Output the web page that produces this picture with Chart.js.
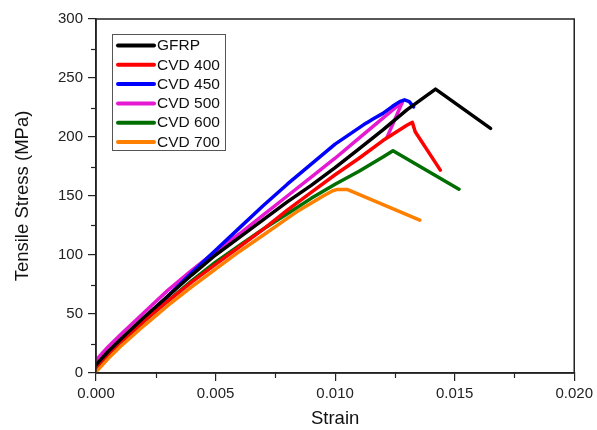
<!DOCTYPE html>
<html>
<head>
<meta charset="utf-8">
<script src="https://cdn.jsdelivr.net/npm/chart.js@4/dist/chart.umd.min.js"></script>
<style>
  html, body { margin: 0; padding: 0; background: #fff; }
  #wrap { width: 597px; height: 430px; }
</style>
</head>
<body>
<div id="wrap"><canvas id="c" width="597" height="430"></canvas></div>
<script>
// Stress–strain curves (strain, MPa)
const seriesNames = ['GFRP', 'CVD 400', 'CVD 450', 'CVD 500', 'CVD 600', 'CVD 700'];

const gfrpStrain   = [0, 0.0005, 0.001, 0.002, 0.003, 0.004, 0.005, 0.006, 0.007, 0.008, 0.009, 0.010, 0.011, 0.012, 0.013, 0.0142, 0.0165];
const gfrpStress   = [7, 18, 28, 47, 65, 83, 100, 115, 130, 145, 159, 174, 190, 206, 223, 240.6, 207.3];

const cvd400Strain = [0, 0.0005, 0.001, 0.002, 0.003, 0.004, 0.005, 0.006, 0.007, 0.008, 0.009, 0.010, 0.011, 0.012, 0.013, 0.01323, 0.01335, 0.0144];
const cvd400Stress = [5, 16, 26, 44, 61, 77, 92, 107, 122, 138, 153, 168, 182, 197, 210, 212.4, 204.4, 171.9];

const cvd450Strain = [0, 0.0005, 0.001, 0.002, 0.003, 0.004, 0.005, 0.006, 0.007, 0.008, 0.009, 0.010, 0.0108, 0.0112, 0.0114, 0.0116, 0.012, 0.0124, 0.0127, 0.0129, 0.0131, 0.01328];
const cvd450Stress = [6, 17, 27, 46, 65, 85, 104, 123, 142, 160, 177, 194, 205, 210.5, 213, 215.5, 220, 226, 230, 231.5, 230, 225.6];

const cvd500Strain = [0, 0.0005, 0.001, 0.002, 0.003, 0.004, 0.005, 0.006, 0.007, 0.008, 0.009, 0.010, 0.011, 0.012, 0.01282, 0.01217];
const cvd500Stress = [11, 22, 32, 51, 70, 87, 103, 118, 134, 150, 166, 182, 199, 216, 229.9, 199.7];

const cvd600Strain = [0, 0.0005, 0.001, 0.002, 0.003, 0.004, 0.005, 0.006, 0.007, 0.008, 0.009, 0.010, 0.011, 0.012, 0.01242, 0.01518];
const cvd600Stress = [5, 16, 26, 44, 61, 78, 94, 108, 122, 135, 148, 160, 171, 183, 188.3, 155.8];

const cvd700Strain = [0, 0.0005, 0.001, 0.002, 0.003, 0.004, 0.005, 0.006, 0.007, 0.008, 0.0085, 0.0095, 0.0099, 0.0101, 0.0105, 0.01354];
const cvd700Stress = [1, 12, 22, 40, 57, 73, 88, 103, 117, 131, 138, 150, 154.5, 155.6, 155.6, 129.5];

const seriesColors = ['#000000', '#ff0000', '#0000ff', '#e619d2', '#006e00', '#ff8000'];

// Axis ticks
const xMajorTicks = [0, 0.005, 0.010, 0.015, 0.020];
const xTickLabels = ['0.000', '0.005', '0.010', '0.015', '0.020'];
const yMajorTicks = [0, 50, 100, 150, 200, 250, 300];
const yTickLabels = ['0', '50', '100', '150', '200', '250', '300'];

const strainSets = [gfrpStrain, cvd400Strain, cvd450Strain, cvd500Strain, cvd600Strain, cvd700Strain];
const stressSets = [gfrpStress, cvd400Stress, cvd450Stress, cvd500Stress, cvd600Stress, cvd700Stress];

const datasets = seriesNames.map((name, i) => ({
  label: name,
  data: strainSets[i].map((s, j) => ({ x: s, y: stressSets[i][j] })),
  borderColor: seriesColors[i],
  backgroundColor: seriesColors[i],
  borderWidth: 3.5,
  borderJoinStyle: 'round',
  borderCapStyle: 'round',
  pointRadius: 0,
  tension: 0,
  fill: false
}));

const FONT = 'Liberation Sans, Arial, sans-serif';
const AXIS = '#222';

// frame, minor ticks and in-plot legend
const decorations = {
  id: 'decorations',
  afterDraw(chart) {
    const { ctx, chartArea: a, scales } = chart;
    ctx.save();
    ctx.strokeStyle = AXIS;
    ctx.lineWidth = 1.5;
    ctx.strokeRect(a.left, a.top, a.right - a.left, a.bottom - a.top);

    // minor ticks (outward)
    ctx.lineWidth = 1.2;
    for (let v = 0.0025; v < 0.02; v += 0.005) {
      const px = Math.round(scales.x.getPixelForValue(v)) + 0.5;
      ctx.beginPath(); ctx.moveTo(px, a.bottom); ctx.lineTo(px, a.bottom + 5); ctx.stroke();
    }
    for (let v = 25; v < 300; v += 50) {
      const py = Math.round(scales.y.getPixelForValue(v)) + 0.5;
      ctx.beginPath(); ctx.moveTo(a.left, py); ctx.lineTo(a.left - 5, py); ctx.stroke();
    }

    // legend box
    const bx = 112, by = 34, bw = 113, bh = 116, row = 19.3;
    ctx.fillStyle = '#fff';
    ctx.fillRect(bx, by, bw, bh);
    ctx.strokeStyle = '#555';
    ctx.lineWidth = 1;
    ctx.strokeRect(bx + 0.5, by + 0.5, bw, bh);
    ctx.font = '15.5px ' + FONT;
    ctx.textBaseline = 'middle';
    ctx.textAlign = 'left';
    chart.data.datasets.forEach((ds, i) => {
      const y = by + 11.5 + i * row;
      ctx.strokeStyle = ds.borderColor;
      ctx.lineWidth = 4;
      ctx.lineCap = 'round';
      ctx.beginPath(); ctx.moveTo(118, y); ctx.lineTo(154, y); ctx.stroke();
      ctx.fillStyle = '#111';
      ctx.fillText(ds.label, 157, y + 0.5);
    });
    ctx.restore();
  }
};

new Chart(document.getElementById('c'), {
  type: 'line',
  data: { datasets },
  options: {
    responsive: false,
    animation: false,
    layout: { padding: { top: 19, right: 19, left: 0, bottom: 0 } },
    plugins: { legend: { display: false }, tooltip: { enabled: false } },
    scales: {
      x: {
        type: 'linear',
        min: 0, max: 0.02,
        afterBuildTicks(scale) { scale.ticks = xMajorTicks.map(v => ({ value: v })); },
        afterFit(scale) { scale.height = 57; },
        grid: { display: true, drawOnChartArea: false, drawTicks: true, tickLength: 8, color: AXIS, lineWidth: 1.2 },
        border: { display: true, color: AXIS, width: 1.5 },
        ticks: {
          padding: 4,
          color: AXIS,
          font: { family: FONT, size: 15 },
          maxRotation: 0,
          callback: (v) => xTickLabels[xMajorTicks.findIndex(t => Math.abs(t - v) < 1e-9)]
        },
        title: { display: true, text: 'Strain', color: '#111', font: { family: FONT, size: 18.5 }, padding: { top: 0, bottom: 0 } }
      },
      y: {
        type: 'linear',
        min: 0, max: 300,
        afterBuildTicks(scale) { scale.ticks = yMajorTicks.map(v => ({ value: v })); },
        afterFit(scale) { scale.width = 96; },
        grid: { display: true, drawOnChartArea: false, drawTicks: true, tickLength: 8, color: AXIS, lineWidth: 1.2 },
        border: { display: true, color: AXIS, width: 1.5 },
        ticks: {
          padding: 5,
          color: AXIS,
          font: { family: FONT, size: 15 },
          callback: (v) => yTickLabels[yMajorTicks.indexOf(v)]
        },
        title: { display: true, text: 'Tensile Stress (MPa)', color: '#111', font: { family: FONT, size: 18.5 }, padding: { top: 12, bottom: 0 } }
      }
    }
  },
  plugins: [decorations]
});
</script>
</body>
</html>
